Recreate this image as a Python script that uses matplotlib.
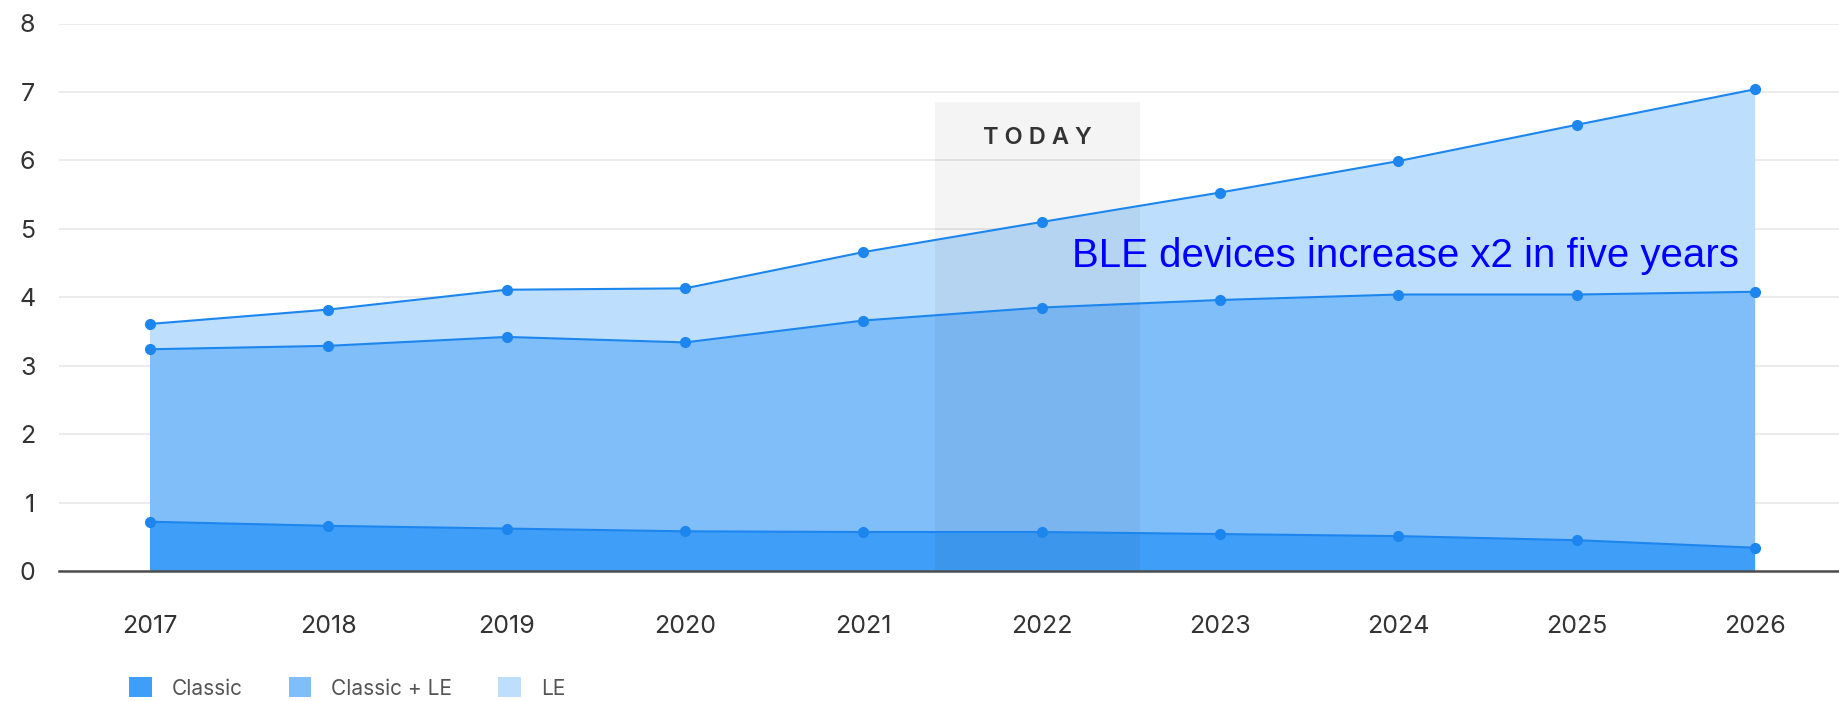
import numpy as np
import matplotlib
matplotlib.use("Agg")
import matplotlib.pyplot as plt
from matplotlib.patches import Patch

#%% Data (billions of devices)
years = [2017, 2018, 2019, 2020, 2021, 2022, 2023, 2024, 2025, 2026]
classic = [0.72, 0.66, 0.62, 0.58, 0.57, 0.57, 0.54, 0.51, 0.45, 0.34]
classic_le = [2.52, 2.63, 2.80, 2.76, 3.09, 3.28, 3.42, 3.53, 3.59, 3.74]
le = [0.37, 0.53, 0.69, 0.79, 1.00, 1.25, 1.57, 1.95, 2.48, 2.96]

series_names = ["Classic", "Classic + LE", "LE"]
y_ticks = [0, 1, 2, 3, 4, 5, 6, 7, 8]

today_span = (2021.40, 2022.55)
today_top = 6.85
note = "BLE devices increase x2 in five years"

#%% Style
COLORS = ["#3f9ef7", "#80befa", "#bddefc"]
LINE_COLOR = "#1c86ee"
TEXT_COLOR = "#333333"
plt.rcParams["font.family"] = ["Inter", "DejaVu Sans"]

#%% Figure
W, H = 1839, 701
fig = plt.figure(figsize=(W / 100, H / 100), dpi=100)
ax = fig.add_axes([59 / W, 130 / H, (W - 59) / W, 547.5 / H])

ax.stackplot(years, classic, classic_le, le, colors=COLORS, zorder=1)

cum = np.cumsum([classic, classic_le, le], axis=0)
for level in cum:
    ax.plot(years, level, color=LINE_COLOR, lw=1.5, marker="o", ms=7,
            zorder=4)

# "TODAY" highlight
ax.axvspan(today_span[0], today_span[1], ymin=0, ymax=today_top / 8,
           color="black", alpha=0.045, lw=0, zorder=3)
ax.text(sum(today_span) / 2, 6.33, "T O D A Y", ha="center", va="center",
        fontsize=17, fontweight="semibold", color=TEXT_COLOR, zorder=5)

ax.text(2022.17, 4.6, note, ha="left", va="center", fontsize=29,
        color="#0000ff", family="Liberation Sans", zorder=6)

# Axes formatting
ax.set_xlim(2016.49, 2026.47)
ax.set_ylim(0, 8)
ax.set_yticks(y_ticks)
ax.set_xticks(years)
ax.set_xticklabels([str(y) for y in years])
ax.grid(axis="y", color="#e8e8e8", lw=1.2, zorder=0)
ax.set_axisbelow(True)
for s in ["top", "right", "left"]:
    ax.spines[s].set_visible(False)
ax.spines["bottom"].set_color("#4d4d4d")
ax.spines["bottom"].set_linewidth(1.8)
ax.spines["bottom"].set_zorder(7)
ax.tick_params(axis="both", length=0, labelsize=18, labelcolor=TEXT_COLOR)
ax.tick_params(axis="y", pad=17)
ax.tick_params(axis="x", pad=32)

# Legend
handles = [Patch(facecolor=c, edgecolor="none") for c in COLORS]
fig.legend(handles, series_names, loc="center left",
           bbox_to_anchor=(110 / W, 1 - 688 / H), ncol=3, frameon=False,
           fontsize=15, labelcolor="#555555", handlelength=1.1,
           handleheight=1.1, handletextpad=0.96, columnspacing=2.2)

fig.savefig("out.png", dpi=100)
